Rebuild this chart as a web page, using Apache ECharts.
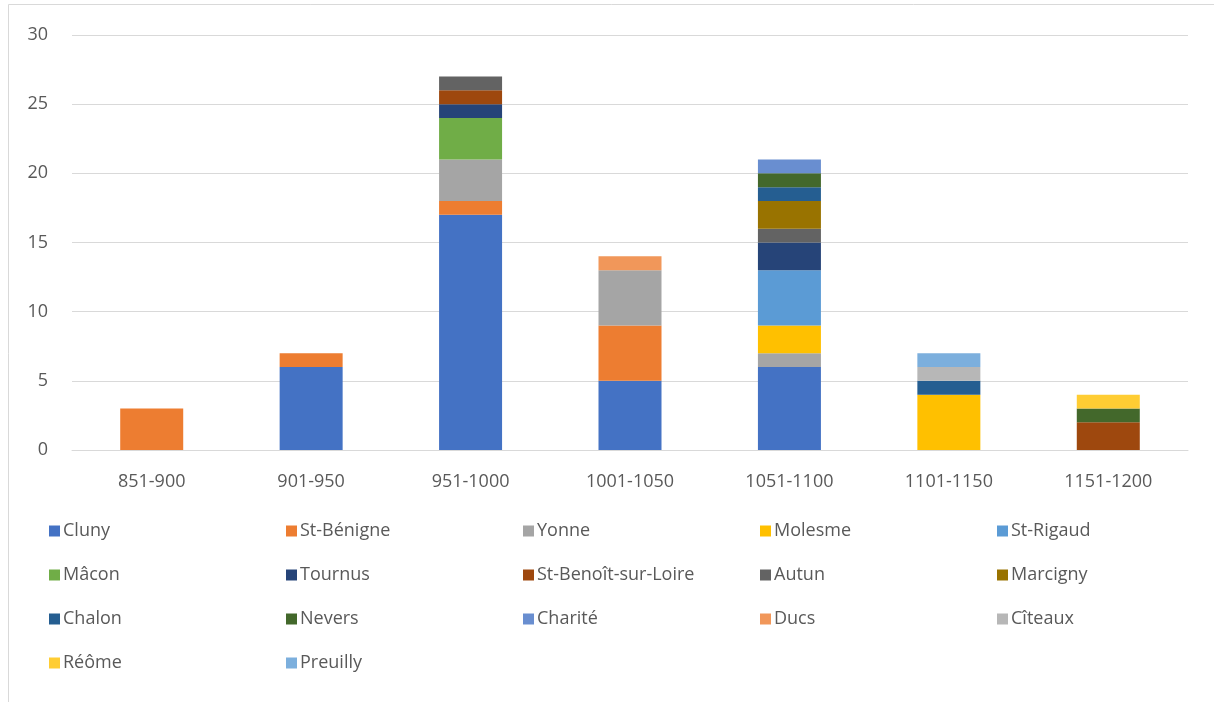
<!DOCTYPE html>
<html><head><meta charset="utf-8">
<script src="https://cdn.jsdelivr.net/npm/echarts@6/dist/echarts.min.js"></script>
<style>html,body{margin:0;padding:0;background:#fff}#c{width:1214px;height:702px}</style>
</head><body><div id="c"></div>
<script>
const categories = ['851-900','901-950','951-1000','1001-1050','1051-1100','1101-1150','1151-1200'];
const seriesNames = ['Cluny','St-Bénigne','Yonne','Molesme','St-Rigaud','Mâcon','Tournus','St-Benoît-sur-Loire','Autun','Marcigny','Chalon','Nevers','Charité','Ducs','Cîteaux','Réôme','Preuilly'];
const colors = ['#4472C4','#ED7D31','#A5A5A5','#FFC000','#5B9BD5','#70AD47','#264478','#9E480E','#636363','#997300','#255E91','#43682B','#698ED0','#F1975A','#B7B7B7','#FFCD33','#7CAFDD'];
const cluny      = [0,6,17,5,6,0,0];
const stBenigne  = [3,1,1,4,0,0,0];
const yonne      = [0,0,3,4,1,0,0];
const molesme    = [0,0,0,0,2,4,0];
const stRigaud   = [0,0,0,0,4,0,0];
const macon      = [0,0,3,0,0,0,0];
const tournus    = [0,0,1,0,2,0,0];
const stBenoit   = [0,0,1,0,0,0,2];
const autun      = [0,0,1,0,1,0,0];
const marcigny   = [0,0,0,0,2,0,0];
const chalon     = [0,0,0,0,1,1,0];
const nevers     = [0,0,0,0,1,0,1];
const charite    = [0,0,0,0,1,0,0];
const ducs       = [0,0,0,1,0,0,0];
const citeaux    = [0,0,0,0,0,1,0];
const reome      = [0,0,0,0,0,0,1];
const preuilly   = [0,0,0,0,0,1,0];
const values = [cluny,stBenigne,yonne,molesme,stRigaud,macon,tournus,stBenoit,autun,marcigny,chalon,nevers,charite,ducs,citeaux,reome,preuilly];
const yTicks = [0,5,10,15,20,25,30];

const font = '"Open Sans", "Liberation Sans", sans-serif';
const series = seriesNames.map((n,i)=>({
  name:n, type:'bar', stack:'total', barWidth:63,
  itemStyle:{color:colors[i]},
  data: values[i].map(v=> v===0 ? null : v),
  emphasis:{disabled:true}
}));
const legendCols = [0,1,2,3,4].map(c => seriesNames.filter((_,i)=> i%5===c));
const legendX = [44,281,518,755,992];
const legends = legendCols.map((names,c)=>({
  orient:'vertical', left:legendX[c], top:517, itemGap:26,
  itemWidth:11, itemHeight:11, icon:'rect',
  data:names, selectedMode:false,
  textStyle:{color:'#595959', fontSize:18, fontFamily:font, padding:[0,0,0,-2]}
}));
const chart = echarts.init(document.getElementById('c'), null, {renderer:'canvas'});
chart.setOption({
  animation:false,
  backgroundColor:'#fff',
  graphic:[{type:'rect', shape:{x:8.5,y:4.5,width:1210,height:700}, style:{fill:'none', stroke:'#D9D9D9', lineWidth:1}, silent:true}],
  grid:{left:72, right:26, top:35, bottom:252, containLabel:false},
  legend: legends,
  xAxis:{type:'category', data:categories,
    axisLine:{lineStyle:{color:'#D9D9D9', width:1}}, axisTick:{show:false},
    axisLabel:{color:'#595959', fontSize:18, fontFamily:font, margin:23}},
  yAxis:{type:'value', min:0, max:30, interval:5,
    axisLine:{show:false}, axisTick:{show:false},
    splitLine:{lineStyle:{color:'#D9D9D9', width:1}},
    axisLabel:{color:'#595959', fontSize:18, fontFamily:font, margin:24,
      formatter: v => yTicks.includes(v) ? String(v) : ''}},
  series
});
</script></body></html>
